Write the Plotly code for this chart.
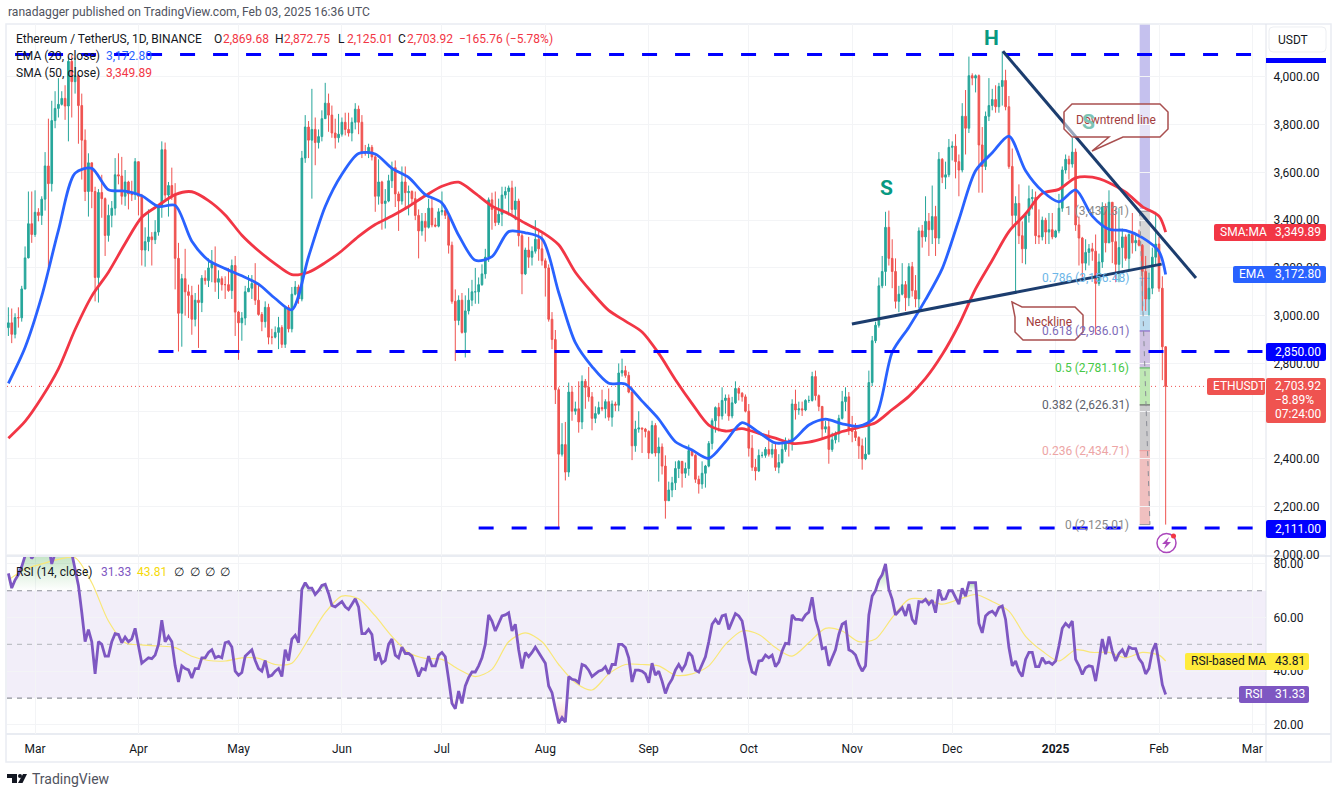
import pandas as pd
import plotly.graph_objects as go

W, H = 1337, 794
# the browser photo comes out slightly squeezed in height, this cancels it
Y_STRETCH = 800 / 794

# daily candles, Feb 22 2024 .. Feb 3 2025
close = [
    2970,2922,2992,2991,3112,3242,3385,3340,
    3433,3420,3488,3627,3553,3817,3868,3885,3910,3878,4065,3980,4005,3880,3735,3520,3640,3520,3160,3516,3490,3336,3420,3450,3590,3585,3500,3560,3510,3507,3645,
    3500,3275,3310,3330,3318,3350,3455,3695,3505,3545,3505,3240,3010,3155,3100,3085,2985,3065,3055,3157,3147,3200,3218,3140,3155,3130,3130,3105,3210,3015,
    2970,2990,3100,3115,3135,3065,3005,2975,3035,2910,2910,2930,2950,2880,3035,2945,3090,3120,3070,3660,3790,3735,3780,3725,3750,3825,3890,3840,3765,3745,3760,
    3810,3780,3765,3810,3865,3810,3680,3680,3705,3665,3500,3560,3470,3480,3565,3620,3510,3480,3560,3515,3520,3490,3420,3355,3395,3370,3450,3380,3375,3435,
    3440,3420,3295,3060,2980,3065,2930,3020,3065,3100,3100,3130,3175,3245,3485,3445,3390,3425,3505,3520,3535,3445,3480,3335,3175,3275,3245,3270,3320,3280,3230,
    3200,2985,2900,2690,2420,2460,2345,2680,2600,2610,2555,2725,2700,2660,2570,2590,2615,2610,2640,2575,2630,2625,2760,2770,2750,2680,2455,2525,2530,2525,2515,
    2425,2540,2425,2450,2370,2225,2270,2300,2360,2390,2340,2360,2435,2415,2315,2295,2340,2370,2465,2560,2615,2580,2645,2655,2580,2635,2695,2675,2660,2600,
    2445,2365,2350,2415,2415,2440,2420,2440,2365,2385,2440,2475,2465,2630,2605,2610,2605,2645,2645,2745,2665,2620,2525,2535,2440,2480,2505,2570,2640,2660,2520,
    2515,2490,2455,2400,2420,2720,2895,2960,3125,3185,3370,3240,3185,3060,3090,3130,3075,3205,3105,3070,3355,3330,3395,3360,3415,3325,3655,3580,3590,3705,
    3710,3645,3610,3835,3785,4005,3995,4005,3715,3625,3835,3880,3905,3875,3960,3985,3875,3625,3420,3470,3335,3280,3420,3490,3495,3335,3330,3400,3350,3360,3330,
    3355,3450,3610,3655,3635,3685,3380,3325,3220,3265,3280,3270,3135,3225,3455,3305,3475,3310,3215,3285,3330,3240,3340,3305,3315,3295,3185,3070,3115,3245,3300,
    3115,2869.68,2703.92,
]
high = [
    3035,3030,3010,3035,3125,3290,3520,3520,
    3525,3450,3500,3685,3825,3900,3940,3995,3940,3965,4085,4090,4080,4010,3930,3780,3680,3615,3540,3530,3590,3495,3465,3480,3660,3680,3665,3610,3565,3565,3660,
    3645,3510,3370,3445,3350,3400,3460,3730,3725,3560,3620,3555,3305,3175,3280,3130,3125,3095,3130,3170,3190,3240,3275,3290,3190,3165,3165,3200,3235,3250,
    3020,3015,3125,3170,3170,3220,3130,3015,3060,3050,2945,2955,2995,2960,3040,3045,3120,3145,3130,3690,3840,3815,3950,3830,3780,3860,3975,3930,3880,3825,3845,
    3830,3850,3850,3830,3890,3880,3840,3715,3720,3715,3680,3655,3565,3530,3590,3645,3650,3520,3625,3625,3545,3525,3520,3445,3430,3430,3490,3490,3410,3450,
    3520,3460,3430,3310,3110,3085,3095,3085,3115,3150,3200,3160,3215,3280,3495,3515,3520,3490,3540,3540,3545,3565,3540,3490,3345,3285,3330,3290,3400,3365,3350,
    3240,3215,3015,2940,2700,2550,2555,2720,2705,2640,2725,2750,2735,2785,2680,2620,2640,2690,2650,2695,2645,2640,2800,2820,2790,2765,2700,2560,2600,2530,2530,
    2520,2560,2550,2490,2465,2415,2305,2325,2390,2395,2385,2385,2460,2440,2420,2330,2390,2375,2475,2570,2620,2635,2700,2670,2670,2660,2725,2700,2680,2670,
    2630,2500,2400,2440,2430,2450,2520,2465,2465,2420,2465,2490,2485,2650,2690,2640,2640,2650,2665,2765,2770,2670,2620,2560,2565,2510,2515,2585,2685,2700,2680,
    2580,2550,2495,2485,2490,2770,2915,2975,3160,3250,3435,3440,3320,3240,3125,3220,3145,3220,3225,3170,3370,3380,3500,3430,3545,3460,3685,3660,3645,3740,
    3730,3760,3675,3890,3945,4085,4015,4010,4010,3790,3855,3995,3950,3965,3975,4107,4030,3920,3700,3500,3550,3395,3430,3545,3530,3520,3445,3415,3410,3430,3430,
    3360,3510,3625,3675,3670,3745,3700,3415,3330,3320,3300,3305,3340,3260,3475,3470,3525,3450,3450,3450,3365,3340,3345,3430,3340,3360,3300,3250,3180,3285,3435,
    3330,3165,2872.75,
]
low = [
    2915,2885,2905,2950,2975,3110,3240,3305,
    3330,3395,3380,3440,3200,3520,3785,3830,3880,3820,3730,3830,3930,3720,3570,3480,3415,3450,3060,3055,3410,3250,3310,3370,3420,3550,3465,3460,3445,3480,3485,
    3420,3210,3205,3270,3210,3300,3335,3410,3480,3415,3485,3110,2850,2870,3000,2990,2920,2955,2865,3015,3130,3120,3140,3100,3070,3105,3070,3100,3070,2915,
    2815,2895,2960,3100,3070,3045,3000,2935,2950,2880,2880,2905,2860,2865,2865,2930,2930,3085,3050,3060,3640,3660,3490,3630,3700,3730,3825,3770,3745,3700,3725,
    3750,3755,3750,3730,3780,3760,3660,3670,3660,3650,3435,3465,3360,3365,3475,3535,3455,3355,3465,3445,3420,3470,3400,3240,3335,3310,3365,3370,3370,3370,
    3420,3405,3260,3050,2810,2960,2925,2825,3005,3040,3050,3050,3125,3155,3225,3360,3375,3380,3375,3490,3420,3425,3400,3290,3090,3170,3200,3210,3260,3230,3210,
    3080,2975,2860,2630,2111,2410,2310,2325,2560,2585,2510,2525,2610,2640,2520,2550,2585,2600,2570,2560,2535,2600,2600,2745,2740,2675,2395,2430,2510,2425,2490,
    2400,2420,2410,2305,2335,2150,2225,2240,2270,2320,2280,2320,2330,2410,2300,2255,2275,2280,2365,2440,2510,2515,2565,2590,2560,2570,2630,2645,2640,2595,
    2410,2350,2310,2345,2405,2405,2410,2405,2350,2340,2380,2430,2410,2435,2565,2585,2580,2600,2635,2640,2645,2600,2480,2510,2380,2430,2465,2470,2565,2600,2500,
    2470,2475,2400,2355,2395,2420,2705,2885,2950,3115,3125,3210,3115,3030,3015,3085,3020,3040,3080,3035,3030,3285,3310,3250,3300,3250,3300,3555,3530,3580,
    3650,3575,3500,3600,3675,3765,3965,3935,3515,3515,3610,3815,3860,3850,3850,3880,3860,3615,3370,3100,3300,3220,3215,3390,3445,3300,3300,3315,3300,3300,3320,
    3325,3345,3435,3595,3570,3620,3355,3210,3155,3190,3210,3230,2920,3125,3200,3265,3310,3220,3140,3140,3200,3230,3190,3260,3270,3290,3020,3020,3000,3090,3210,
    3100,2730,2125.01,
]
first_open = 2950

# indicators, sampled every 5 days plus the last bar
ema20 = [
    2717,2867,3082,3357,3597,3617,3527,3522,3502,3457,
    3462,3312,3232,3197,3167,3132,3072,3025,3247,3457,
    3592,3679,3677,3617,3579,3507,3472,3337,3232,3247,
    3352,3347,3322,3097,2887,2787,2717,2714,2642,2567,
    2472,2437,2402,2472,2552,2512,2467,2477,2542,2567,
    2547,2537,2577,2847,2952,3067,3197,3402,3607,3682,
    3752,3607,3522,3477,3527,3417,3362,3357,3327,3269,
    3172.80,
]
sma50 = [
    2487,2557,2657,2777,2942,3082,3182,3302,3412,3462,
    3507,3519,3482,3422,3337,3272,3217,3172,3182,3222,
    3272,3332,3382,3417,3457,3502,3542,3559,3512,3459,
    3427,3387,3350,3297,3182,3097,3022,2977,2932,2842,
    2732,2632,2542,2517,2527,2507,2487,2465,2470,2489,
    2515,2532,2552,2607,2662,2737,2837,2962,3112,3232,
    3352,3427,3512,3529,3577,3580,3557,3517,3457,3417,
    3349.89,
]
rsi_ma = [
    74,78,80,81.7,82.3,73,58.7,50.6,49.8,49.4,
    48.8,45.6,44,43.8,45,44.8,42.5,43,52,61.8,
    68,67,60.6,53,47,44.8,44.4,40.7,38,40.7,
    51,54.3,51,42.5,35.7,33,39,42.5,42.5,42,
    38.5,39,42,50,55,53.7,48.8,45.6,50.6,56,
    55,51,52,60,66.8,66.8,65,66.8,68.6,66,
    62.4,53,47.5,43.8,48,47,47,45,47,46,
    43.81,
]
rsi = [
    76.5,71,74,76,79,83,85,82,84,85,
    83,86,87,80,84,86,85,87,88,84,
    78,72,62,51,55.5,51,39,51,50,45.6,
    45.6,51,54,53.7,50.6,52.7,51,52,56,50,
    43,44,45,44.7,46,50,59,51,53,51,
    42,36,42,41,40.5,37.5,41,41,45,45,
    47,48,45,45.6,45,50.6,51,49,40,38.5,
    39.5,45.6,47,48,44,41,40,44,38,38.5,
    40,41,38,48,44,52,53.4,50.6,70.5,73,
    71,71,68.6,70,72,72.4,69,64.5,64,65,
    66,64,63,65,67,64,54,54,55.6,53.7,
    44,47,43,44,50,52,46,45,49,46.6,
    46.6,45.6,42,38,41,40.5,45.6,42,42,46,
    47,45.4,37,28,26,32.6,28,34.5,37.6,39.7,
    39.7,42,45,50,61,58.7,55,58,60.6,61,
    61.8,55,57.5,48,41,47,45.4,47,49,47,
    45,43,34.5,32,26,20.6,22.7,21,38,37,
    36.7,35.7,42.5,42,40.4,38,39,40,40.4,41.7,
    39,42.5,42.5,50,50,48.8,45,36,40.4,40.4,
    40,39,35.7,43,38.5,40,36.3,31.7,35,37,
    40.4,42.5,40.4,42.5,47,45.6,40.4,39.7,42.5,45.4,
    51,57.5,59.3,57.5,60.6,61,55.6,58.7,61.5,60.6,
    58.7,52,44.4,39.7,39,43.8,44,46,45,46,
    41.7,43.4,47.5,50.4,50.2,61,59.3,59.3,59,61,
    62,67.6,59.3,55,48.4,48.8,42,45,48,53.7,
    57.5,58.3,48,47.3,46,42.5,40,42,61,68,
    70,74,76,80,70.5,66.8,61,62.4,63.7,60.6,
    65,59.3,57.5,66,65.8,66.8,65,66.5,61.8,70.5,
    66.8,67,70,70,67.4,65,70.9,68,73,73,
    73,57.8,54.3,60.6,61.8,62.4,61,63.7,64.3,59.3,
    48.8,42,43.8,40,38,44.4,47,47,41.7,41.7,
    45,43,43.4,42.5,43.8,49.4,56,57.8,56.6,58.7,
    44.4,42,38.8,41.3,42,41.7,36.3,43.8,52,46.3,
    52.9,47.5,43.8,46.6,48,45.4,49,48.4,48.4,44.7,
    43,39,41,47.5,50.4,43,35,31.33,
]

price_ticks = list(range(2000, 4001, 200))
rsi_ticks = [20, 40, 60, 80]
month_ticks = ["2024-03-01", "2024-04-01", "2024-05-01", "2024-06-01", "2024-07-01", "2024-08-01",
               "2024-09-01", "2024-10-01", "2024-11-01", "2024-12-01", "2025-01-01", "2025-02-01", "2025-03-01"]
month_labels = ["Mar", "Apr", "May", "Jun", "Jul", "Aug", "Sep", "Oct", "Nov", "Dec", "<b>2025</b>", "Feb", "Mar"]

support_levels = [4094, 2850, 2111]
fib_ratios = ["1", "0.786", "0.618", "0.5", "0.382", "0.236", "0"]
fib_prices = [3437.31, 3156.48, 2936.01, 2781.16, 2626.31, 2434.71, 2125.01]
fib_line = ["#8a8d96", "#64b5f6", "#7e57c2", "#4caf50", "#555555", "#ef9a9a", "#999999"]
fib_text = ["#8a8a8a", "#6db6e8", "#7e6bb8", "#46c846", "#5d606b", "#eda5a5", "#8a8a8a"]
fib_fill = ["#d8d8d8", "#bcdcef", "#cfc2e2", "#bfe8b4", "#cbcbcd", "#f0c0c0"]

UP, DOWN = "#26a69a", "#ef5350"
BLUE, RED = "#2962ff", "#f23645"
PURPLE, YELLOW = "#7e57c2", "#f9e777"
INK = "#131722"
GRID = "#f3f4f6"
FRAME = "#e9ecf2"
FONT = "Roboto"

dates = pd.date_range("2024-02-22", periods=len(close), freq="D")
opens = [first_open] + close[:-1]
sample = list(range(0, len(close), 5)) + [len(close) - 1]
sample_dates = dates[sample]


def px(x):
    return x / W


def py(y):
    return 1 - y * Y_STRETCH / H


def box(x0, y0, x1, y1, fill, line=None, r=2):
    # rounded rectangle given in screen pixels
    p = (f"M {px(x0 + r)} {py(y0)} L {px(x1 - r)} {py(y0)} Q {px(x1)} {py(y0)} {px(x1)} {py(y0 + r)} "
         f"L {px(x1)} {py(y1 - r)} Q {px(x1)} {py(y1)} {px(x1 - r)} {py(y1)} "
         f"L {px(x0 + r)} {py(y1)} Q {px(x0)} {py(y1)} {px(x0)} {py(y1 - r)} "
         f"L {px(x0)} {py(y0 + r)} Q {px(x0)} {py(y0)} {px(x0 + r)} {py(y0)} Z")
    return dict(type="path", xref="paper", yref="paper", path=p, fillcolor=fill,
                line=dict(color=line or fill, width=1 if line else 0), layer="above")


def poly(points, fill=None, line=None, width=1.5):
    p = "M " + " L ".join(f"{px(a)} {py(b)}" for a, b in points) + " Z"
    return dict(type="path", xref="paper", yref="paper", path=p, fillcolor=fill or "rgba(0,0,0,0)",
                line=dict(color=line or "rgba(0,0,0,0)", width=width if line else 0), layer="above")


def text(x, y, s, color=INK, size=12, anchor="left", **kw):
    return dict(xref="paper", yref="paper", x=px(x), y=py(y), text=s, showarrow=False, xanchor=anchor,
                yanchor="middle", font=dict(family=FONT, size=size, color=color), borderpad=0, **kw)


fig = go.Figure()

fig.add_trace(go.Candlestick(
    x=dates, open=opens, high=high, low=low, close=close, xaxis="x", yaxis="y",
    increasing=dict(line=dict(color=UP, width=1), fillcolor=UP),
    decreasing=dict(line=dict(color=DOWN, width=1), fillcolor=DOWN),
    whiskerwidth=0, hoverinfo="skip",
))
fig.add_trace(go.Scatter(x=sample_dates, y=sma50, mode="lines", line=dict(color=RED, width=2.8, shape="spline", smoothing=0.8),
                         xaxis="x", yaxis="y", hoverinfo="skip"))
fig.add_trace(go.Scatter(x=sample_dates, y=ema20, mode="lines", line=dict(color=BLUE, width=2.8, shape="spline", smoothing=0.8),
                         xaxis="x", yaxis="y", hoverinfo="skip"))


# gradient fills where RSI leaves the 30-70 band
def rsi_runs(test):
    runs, cur = [], []
    for i, v in enumerate(rsi):
        if test(v):
            cur.append(i)
        elif cur:
            runs.append(cur)
            cur = []
    if cur:
        runs.append(cur)
    return runs


for run in rsi_runs(lambda v: v > 70):
    if len(run) < 2:
        continue
    d = list(dates[run])
    fig.add_trace(go.Scatter(
        x=d + d[::-1], y=[rsi[i] for i in run] + [70] * len(run), mode="lines", line=dict(width=0),
        fill="toself", fillgradient=dict(type="vertical", colorscale=[[0, "rgba(76,175,80,0)"], [1, "rgba(76,175,80,0.45)"]]),
        xaxis="x2", yaxis="y2", hoverinfo="skip"))
for run in rsi_runs(lambda v: v < 30):
    if len(run) < 2:
        continue
    d = list(dates[run])
    fig.add_trace(go.Scatter(
        x=d + d[::-1], y=[rsi[i] for i in run] + [30] * len(run), mode="lines", line=dict(width=0),
        fill="toself", fillgradient=dict(type="vertical", colorscale=[[0, "rgba(239,83,80,0.3)"], [1, "rgba(239,83,80,0)"]]),
        xaxis="x2", yaxis="y2", hoverinfo="skip"))

fig.add_trace(go.Scatter(x=sample_dates, y=rsi_ma, mode="lines", line=dict(color=YELLOW, width=1.2, shape="spline", smoothing=0.8),
                         xaxis="x2", yaxis="y2", hoverinfo="skip"))
fig.add_trace(go.Scatter(x=dates, y=rsi, mode="lines", line=dict(color=PURPLE, width=2.8), xaxis="x2", yaxis="y2", hoverinfo="skip"))

shapes = []
annotations = []

# rsi band and its dashed levels
shapes.append(dict(type="rect", xref="x2 domain", yref="y2", x0=0, x1=1, y0=30, y1=70,
                   fillcolor="rgba(126,87,194,0.1)", line=dict(width=0), layer="below"))
for lvl, col in [(70, "#8f929b"), (50, "#bfc1c7"), (30, "#8f929b")]:
    shapes.append(dict(type="line", xref="x2 domain", yref="y2", x0=0, x1=1, y0=lvl, y1=lvl,
                       line=dict(color=col, width=1.2, dash="5px,5px"), layer="below"))

# fib retracement block
fib_x0, fib_x1 = "2025-01-26 05:00", "2025-01-29 07:00"
shapes.append(dict(type="rect", xref="x", yref="paper", x0=fib_x0, x1=fib_x1, y0=py(209), y1=py(24),
                   fillcolor="#c5c1ee", line=dict(width=0), layer="below"))
for i, col in enumerate(fib_fill):
    shapes.append(dict(type="rect", xref="x", yref="y", x0=fib_x0, x1=fib_x1, y0=fib_prices[i + 1], y1=fib_prices[i],
                       fillcolor=col, line=dict(width=0), layer="below"))
for i, price in enumerate(fib_prices):
    shapes.append(dict(type="line", xref="x", yref="y", x0=fib_x0, x1=fib_x1, y0=price, y1=price,
                       line=dict(color=fib_line[i], width=1), layer="below"))
    annotations.append(dict(xref="paper", yref="y", x=px(1130), y=price, text=f"{fib_ratios[i]} ({price:,.2f})",
                            showarrow=False, xanchor="right", yanchor="middle", borderpad=0,
                            font=dict(family=FONT, size=12, color=fib_text[i])))
shapes.append(dict(type="line", xref="x", yref="y", x0=fib_x0, x1=fib_x1, y0=fib_prices[0], y1=fib_prices[-1],
                   line=dict(color="#8a8d96", width=1, dash="5px,5px"), layer="above"))

# last price dotted line
shapes.append(dict(type="line", xref="x domain", yref="y", x0=0, x1=1, y0=close[-1], y1=close[-1],
                   line=dict(color=DOWN, width=1, dash="1px,3px"), layer="below"))

# support / resistance dashes
for lvl, start, end in zip(support_levels, ["2024-02-24", "2024-04-07", "2024-07-12"],
                           ["2025-03-02", "2025-03-05 02:00", "2025-03-02"]):
    shapes.append(dict(type="line", xref="x", yref="y", x0=start, x1=end, y0=lvl, y1=lvl,
                       line=dict(color="#0000ff", width=3, dash="15px,18px"), layer="above"))

# downtrend line and neckline
shapes.append(dict(type="line", xref="x", yref="y", x0="2024-12-16 05:00", y0=4107, x1="2025-02-12 02:00", y1=3158,
                   line=dict(color="#1c3d6e", width=3), layer="above"))
shapes.append(dict(type="line", xref="x", yref="y", x0="2024-10-31 22:00", y0=2965, x1="2025-02-01 19:00", y1=3216,
                   line=dict(color="#1c3d6e", width=3), layer="above"))

# callouts
CALL = "#a94f4f"
shapes.append(poly([(1072, 104), (1160, 104), (1168, 112), (1168, 129), (1160, 137), (1123, 137), (1092, 151), (1109, 137),
                    (1072, 137), (1064, 129), (1064, 112)], fill="rgba(255,255,255,0.55)", line=CALL))
annotations.append(text(1116, 120.5, "Downtrend line", color="#a23d3d", anchor="center", size=12))
shapes.append(poly([(1012, 302), (1022, 307), (1075, 307), (1083, 315), (1083, 332), (1075, 340), (1023, 340), (1015, 332),
                    (1015, 317)], fill="rgba(255,255,255,0.55)", line=CALL))
annotations.append(text(1049, 322, "Neckline", color="#a23d3d", anchor="center", size=12))

# head and shoulders marks
annotations.append(text(991, 38, "<b>H</b>", color="#089981", size=21, anchor="center"))
annotations.append(text(886, 188, "<b>S</b>", color="#089981", size=21, anchor="center"))
annotations.append(text(1088, 122, "<b>S</b>", color="#7cc4b6", size=21, anchor="center"))

# lightning badge
shapes.append(dict(type="circle", xref="paper", yref="paper", x0=px(1157), x1=px(1176), y0=py(552.5), y1=py(533.5),
                   fillcolor="white", line=dict(color="#ab47bc", width=1.5), layer="above"))
shapes.append(poly([(1169, 537), (1162, 544), (1166, 544), (1164, 549), (1171, 542), (1167, 542)], fill="#ab47bc"))
shapes.append(dict(type="circle", xref="paper", yref="paper", x0=px(1171), x1=px(1176), y0=py(538.5), y1=py(533.5),
                   fillcolor="#f23645", line=dict(width=0), layer="above"))

# frame and pane separators
shapes.append(dict(type="rect", xref="paper", yref="paper", x0=px(6), x1=px(1331), y0=py(762), y1=py(24),
                   line=dict(color=FRAME, width=1.5), layer="below"))
for y in (556, 734):
    shapes.append(dict(type="line", xref="paper", yref="paper", x0=px(6), x1=px(1331), y0=py(y), y1=py(y),
                       line=dict(color=FRAME, width=2), layer="below"))
shapes.append(dict(type="line", xref="paper", yref="paper", x0=px(1266), x1=px(1266), y0=py(762), y1=py(24),
                   line=dict(color="#e0e3eb", width=1), layer="below"))

# price tags on the right
shapes.append(box(1269, 27, 1326, 52, "white", line="#eceef2", r=4))
annotations.append(text(1277, 40, "USDT"))
shapes.append(box(1266, 58, 1326, 63, "#0000ff", r=0))

shapes.append(box(1214, 224, 1326, 241, RED))
annotations.append(text(1219, 232.5, "SMA:MA", color="white"))
annotations.append(text(1274, 232.5, f"{sma50[-1]:,.2f}", color="white"))

shapes.append(box(1233, 266, 1326, 283, BLUE))
annotations.append(text(1238, 274.5, "EMA", color="white"))
annotations.append(text(1274, 274.5, f"{ema20[-1]:,.2f}", color="white"))

shapes.append(box(1266, 343, 1326, 361, "#0000ff"))
annotations.append(text(1274, 352, f"{support_levels[1]:,.2f}", color="white"))

shapes.append(box(1207, 378, 1265, 395, DOWN))
annotations.append(text(1212, 386.5, "ETHUSDT", color="white"))
shapes.append(box(1266, 378, 1326, 423, DOWN))
annotations.append(text(1274, 386, f"{close[-1]:,.2f}", color="white"))
annotations.append(text(1274, 400.5, "−8.89%", color="white"))
annotations.append(text(1274, 414, "07:24:00", color="white"))

shapes.append(box(1266, 520, 1326, 538, "#0000ff"))
annotations.append(text(1274, 529, f"{support_levels[2]:,.2f}", color="white"))

shapes.append(box(1185, 653, 1309, 670, "#ffeb3b"))
annotations.append(text(1190, 661.5, "RSI-based MA"))
annotations.append(text(1274, 661.5, f"{rsi_ma[-1]:.2f}"))

shapes.append(box(1239, 686, 1309, 703, PURPLE))
annotations.append(text(1244, 694.5, "RSI", color="white"))
annotations.append(text(1274, 694.5, f"{rsi[-1]:.2f}", color="white"))

# header and legends
GREY = "#50535e"
annotations.append(text(7, 12, "ranadagger published on TradingView.com, Feb 03, 2025 16:36 UTC", color=GREY, size=12.1))
annotations.append(text(15, 39, "Ethereum / TetherUS, 1D, BINANCE", color=INK, size=12))
for x, lab, val in [(213, "O", "2,869.68"), (274, "H", "2,872.75"), (337, "L", "2,125.01"), (397, "C", "2,703.92")]:
    annotations.append(text(x, 39, lab, size=12))
    annotations.append(text(x + 8.5, 39, val, color=RED, size=12))
annotations.append(text(458, 39, "−165.76 (−5.78%)", color=RED, size=12))
annotations.append(text(15, 56, "EMA (20, close)", size=12))
annotations.append(text(105, 56, f"{ema20[-1]:,.2f}", color=BLUE, size=12))
annotations.append(text(15, 73, "SMA (50, close)", size=12))
annotations.append(text(105, 73, f"{sma50[-1]:,.2f}", color=RED, size=12))
annotations.append(text(15, 572, "RSI (14, close)", size=12))
annotations.append(text(100, 572, f"{rsi[-1]:.2f}", color=PURPLE, size=12))
annotations.append(text(136, 572, f"{rsi_ma[-1]:.2f}", color="#f5d90a", size=12))
for x in (173, 189, 204, 219):
    annotations.append(text(x, 572, "∅", size=12))

# TradingView mark
LOGO = "#131722"
shapes.append(poly([(7, 774), (17, 774), (17, 783), (12, 783), (12, 778), (7, 778)], fill=LOGO))
shapes.append(dict(type="circle", xref="paper", yref="paper", x0=px(18), x1=px(22), y0=py(778), y1=py(774),
                   fillcolor=LOGO, line=dict(width=0), layer="above"))
shapes.append(poly([(23, 774), (27, 774), (22.5, 783), (18, 783)], fill=LOGO))
annotations.append(text(31, 779, "TradingView", color=GREY, size=14))

axis_x = dict(type="date", range=["2024-02-21 14:00", "2025-03-05 02:00"], domain=[px(7), px(1266)],
              tickmode="array", tickvals=month_ticks, showgrid=True, gridcolor=GRID, gridwidth=1,
              zeroline=False, showline=False, rangeslider=dict(visible=False))
axis_y = dict(side="right", showgrid=True, gridcolor=GRID, gridwidth=1, zeroline=False, showline=False,
              ticks="outside", ticklen=4, tickcolor="rgba(0,0,0,0)", tickmode="array",
              tickfont=dict(family=FONT, size=12, color=INK))

fig.update_layout(
    width=W, height=H, margin=dict(l=0, r=0, t=0, b=0), autosize=False,
    paper_bgcolor="white", plot_bgcolor="white", showlegend=False,
    font=dict(family=FONT, size=12, color=INK),
    xaxis=dict(axis_x, anchor="y", showticklabels=False, ticks=""),
    xaxis2=dict(axis_x, anchor="y2", matches="x", ticktext=month_labels, ticks="outside", ticklen=4,
                tickcolor="rgba(0,0,0,0)", tickfont=dict(family=FONT, size=12, color=INK)),
    yaxis=dict(axis_y, anchor="x", domain=[py(556), py(24)], range=[1993.7, 4221.5], tickvals=price_ticks,
               ticktext=[f"{v:,.2f}" for v in price_ticks]),
    yaxis2=dict(axis_y, anchor="x2", domain=[py(734), py(557)], range=[16.6, 82.6], tickvals=rsi_ticks,
                ticktext=[f"{v:.2f}" for v in rsi_ticks]),
    shapes=shapes, annotations=annotations,
)

fig.write_html("out.html", config={"displayModeBar": False},
               post_script="document.documentElement.style.cssText='margin:0;height:794px;overflow:hidden';"
                           "document.body.style.cssText='margin:0;height:794px;overflow:hidden';")
